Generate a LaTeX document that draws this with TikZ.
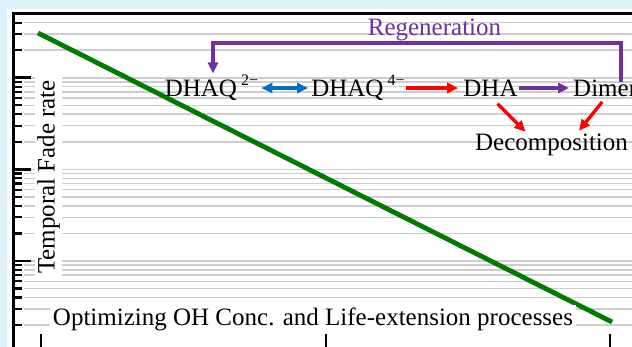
\documentclass[tikz,border=0pt]{standalone}
\usepackage{fontspec}
\setmainfont{Liberation Serif}
\usetikzlibrary{arrows.meta}
\definecolor{bgblue}{RGB}{222,242,251}
\definecolor{gridgray}{RGB}{205,205,205}
\definecolor{fadegreen}{RGB}{0,122,0}
\definecolor{arrblue}{RGB}{0,112,192}
\definecolor{arrred}{RGB}{255,0,0}
\definecolor{arrpurple}{RGB}{112,48,160}
\newcommand\mysup[1]{\raisebox{0.45em}{\fontsize{16}{16}\selectfont #1}}
\begin{document}
\begin{tikzpicture}[x=1pt,y=-1pt,
  lbl/.style={font=\fontsize{25}{29}\selectfont, inner sep=1pt, anchor=base},
  gridline/.style={draw=gridgray, line width=1.5pt},
  ticksmall/.style={line width=2.2pt},
  tickbig/.style={line width=2.8pt},
  conn/.style={line width=3.3pt, -{Triangle[length=11pt,width=10pt]}},
]
\useasboundingbox (0,0) rectangle (632,347);
\fill[bgblue] (0,0) rectangle (632,347);
\fill[white] (7,9) rectangle (632,347);
% grid lines and minor ticks
\foreach \M in {77.8,169.4,261,352.6} {
  \foreach \n in {2,...,9} {
    \pgfmathsetmacro\yy{\M-91.6*log10(\n)}
    \ifdim \yy pt > 16pt \ifdim \yy pt < 347pt
      \draw[gridline] (24,\yy) -- (632,\yy);
      \draw[ticksmall] (13,\yy) -- (22,\yy);
    \fi\fi
  }
}
\foreach \M in {77.8,169.4,261} {
  \draw[gridline] (24,\M) -- (632,\M);
  \draw[tickbig] (13,\M) -- (31,\M);
}
% axes
\draw[line width=3pt] (13,347) -- (13,14) -- (632,14);
\foreach \X in {41,326,610} \draw[ticksmall] (\X,334) -- (\X,347);
% trend line
\draw[fadegreen, line width=4.8pt] (38,33) -- (612,322);
% labels
\node[lbl, fill=white, rotate=90, inner sep=2.5pt] (ylab) at (54.5,177) {Temporal Fade rate};
\node[lbl, fill=white, inner sep=3pt] (xlab) at (313,326) {Optimizing OH Conc. and Life-extension processes};
\node[lbl] (d2) at (211.5,96.5) {DHAQ\,\mysup{2−}};
\node[lbl] (d4) at (358,96.5) {DHAQ\,\mysup{4−}};
\node[lbl] (dha) at (490.5,96.5) {DHA};
\node[lbl, anchor=base west] (dimer) at (572,96.5) {Dimer};
\node[lbl] (decomp) at (551.5,150.5) {Decomposition};
\node[lbl, text=arrpurple] (regen) at (434.5,35.5) {Regeneration};
% connectors
\coordinate (row) at (0,88);
\draw[arrblue, line width=3.3pt, {Triangle[length=11pt,width=10pt]}-{Triangle[length=11pt,width=10pt]}, shorten <=2pt, shorten >=2pt] (d2.east |- row) -- (d4.west |- row);
\draw[conn, arrred, shorten >=4pt] (d4.east |- row) -- (dha.west |- row);
\draw[conn, arrpurple, shorten >=3pt] (dha.east |- row) -- (dimer.west |- row);
\draw[conn, arrred] ([xshift=7pt,yshift=-6pt]dha.south) -- ([xshift=-26pt,yshift=1pt]decomp.north);
\draw[conn, arrred] ([xshift=-3pt,yshift=-4pt]dimer.south) -- ([xshift=27.5pt,yshift=2pt]decomp.north);
\coordinate (rr) at (621,43);
\coordinate (rl) at (213,43);
\draw[conn, arrpurple] ([yshift=-3pt]rr |- dimer.north) -- (rr) -- (rl) -- (rl |- d2.north);
\end{tikzpicture}
\end{document}
